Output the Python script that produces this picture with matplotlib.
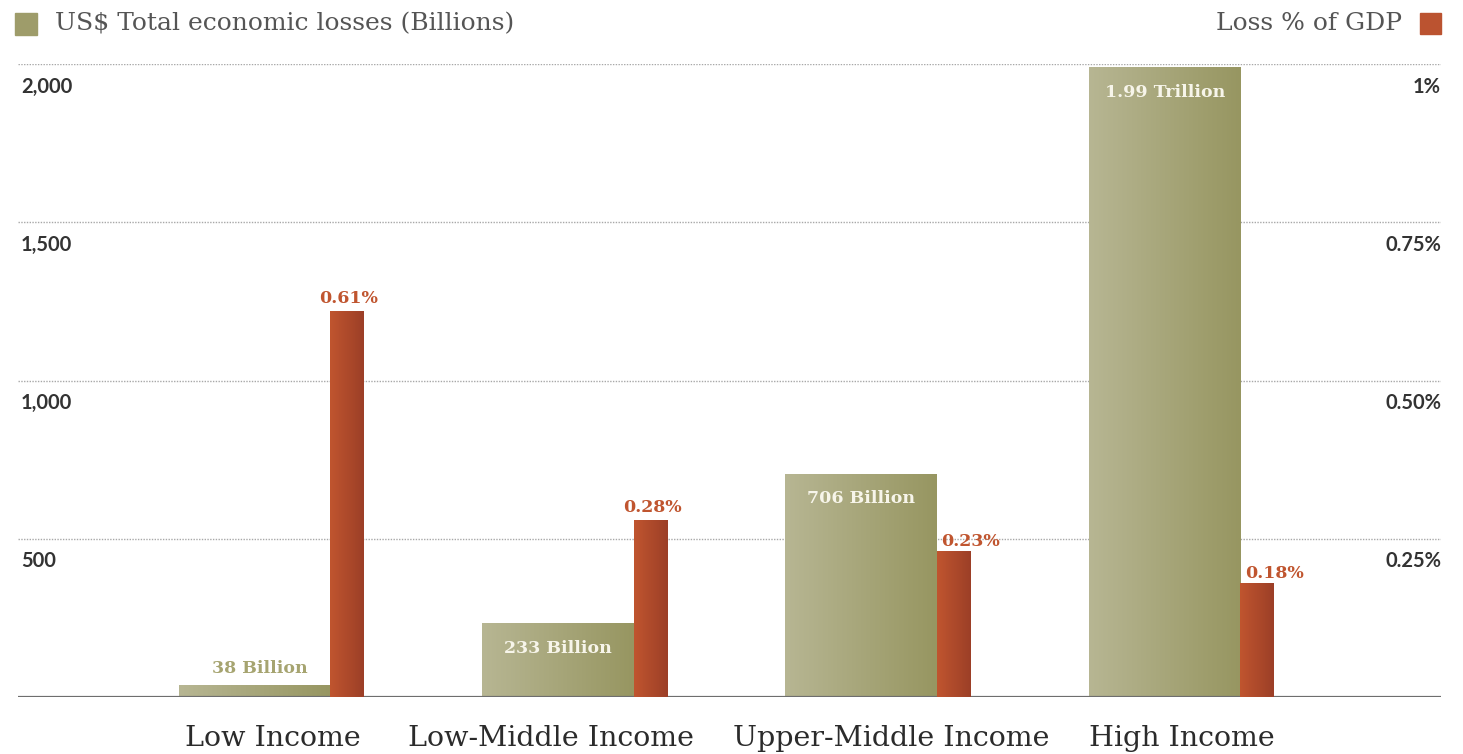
import numpy as np
import matplotlib
matplotlib.use("Agg")
import matplotlib.pyplot as plt
import matplotlib.transforms as mtransforms
from matplotlib.colors import LinearSegmentedColormap

categories = ["Low Income", "Low-Middle Income", "Upper-Middle Income", "High Income"]
losses_billion = [38, 233, 706, 1990]
loss_labels = ["38 Billion", "233 Billion", "706 Billion", "1.99 Trillion"]
gdp_pct = [0.61, 0.28, 0.23, 0.18]
gdp_labels = ["0.61%", "0.28%", "0.23%", "0.18%"]
left_ticks = [500, 1000, 1500, 2000]
left_ticklabels = ["500", "1,000", "1,500", "2,000"]
right_ticks = [0.25, 0.50, 0.75, 1.0]
right_ticklabels = ["0.25%", "0.50%", "0.75%", "1%"]

GREEN_L, GREEN_R = "#b7b693", "#979661"
RED_L, RED_R = "#c0552f", "#9c3f27"
GREEN = "#9e9c6a"
RED = "#bb5330"

fig = plt.figure(figsize=(14.63, 7.54), dpi=100)
ax = fig.add_axes([18/1463, 1-697/754, (1441-18)/1463, (697-64)/754])
ax2 = ax.twinx()

x = np.arange(len(categories))
gw, rw = 0.50, 0.112
gx = x - (gw + rw) / 2 + gw / 2
rx = x - (gw + rw) / 2 + gw + rw / 2

gbars = ax.bar(gx, losses_billion, width=gw, color=GREEN, zorder=3)
rbars = ax2.bar(rx, gdp_pct, width=rw, color=RED, zorder=3)

def gradient(axis, bars, c1, c2):
    cmap = LinearSegmentedColormap.from_list("g", [c1, c2])
    grad = np.linspace(0, 1, 256).reshape(1, -1)
    for b in bars:
        x0, y0 = b.get_x(), b.get_y()
        w, h = b.get_width(), b.get_height()
        im = axis.imshow(grad, cmap=cmap, aspect="auto",
                         extent=(x0, x0 + w, y0, y0 + h), zorder=3.5,
                         interpolation="bicubic")
        im.set_clip_path(b)
gradient(ax, gbars, GREEN_L, GREEN_R)
gradient(ax2, rbars, RED_L, RED_R)
ax.set_xlim(-0.836, 3.855)
ax.set_ylim(0, 2000)
ax2.set_xlim(-0.836, 3.855)
ax2.set_ylim(0, 1.0)

# gridlines
for t in left_ticks:
    ax.axhline(t, color="#a8a8a8", lw=1.0, ls=(0, (1, 1)), zorder=1)
ax.axhline(0, color="#6e6e6e", lw=1.6, zorder=5)

for s in ["top", "bottom", "left", "right"]:
    ax.spines[s].set_visible(False)
    ax2.spines[s].set_visible(False)
ax.set_yticks([])
ax2.set_yticks([])
ax.set_xticks(x)
ax.set_xticklabels(categories, family="DejaVu Serif", fontsize=20.5, color="#2b2b2b")
ax.tick_params(axis="x", length=0, pad=20)
label_shift_pts = [1, -17, 9, 0]
for lab, dx in zip(ax.get_xticklabels(), label_shift_pts):
    lab.set_transform(lab.get_transform() +
                      mtransforms.ScaledTranslation(dx / 72, 0, fig.dpi_scale_trans))

tickfont = dict(family="Lato", fontweight="bold", fontsize=14.5, color="#333333")
for t, lab in zip(left_ticks, left_ticklabels):
    ax.annotate(lab, xy=(0, t), xycoords=ax.get_yaxis_transform(),
                xytext=(2, -9), textcoords="offset points",
                ha="left", va="top", **tickfont)
for t, lab in zip(right_ticks, right_ticklabels):
    ax2.annotate(lab, xy=(1, t), xycoords=ax2.get_yaxis_transform(),
                 xytext=(0, -9), textcoords="offset points",
                 ha="right", va="top", **tickfont)

valfont = dict(family="DejaVu Serif", fontweight="bold", fontsize=12.5)
for i, (b, lab) in enumerate(zip(gbars, loss_labels)):
    cx = b.get_x() + b.get_width() / 2
    h = b.get_height()
    if i == 0:
        ax.annotate(lab, xy=(cx, h), xytext=(4, 6), textcoords="offset points",
                    ha="center", va="bottom", color="#a6a470", zorder=6, **valfont)
    else:
        ax.annotate(lab, xy=(cx, h), xytext=(0, -12), textcoords="offset points",
                    ha="center", va="top", color="#f7f5ea", zorder=6, **valfont)

for i, (b, lab) in enumerate(zip(rbars, gdp_labels)):
    h = b.get_height()
    if i < 2:
        ax2.annotate(lab, xy=(b.get_x() + b.get_width() / 2, h), xytext=(1, 3),
                     textcoords="offset points", ha="center", va="bottom",
                     color="#c0552f", zorder=6, **valfont)
    else:
        ax2.annotate(lab, xy=(b.get_x(), h), xytext=(3, 1),
                     textcoords="offset points", ha="left", va="bottom",
                     color="#c0552f", zorder=6, **valfont)

# legend
legfont = dict(family="DejaVu Serif", fontsize=18, color="#555555", va="center")
fig.patches.append(plt.Rectangle((15/1463, 1-35/754), 22/1463, 22/754,
                                 transform=fig.transFigure, color=GREEN, figure=fig))
fig.text(55/1463, 1-24/754, "US$ Total economic losses (Billions)", ha="left", **legfont)
fig.patches.append(plt.Rectangle((1420/1463, 1-34/754), 21/1463, 21/754,
                                 transform=fig.transFigure, color=RED, figure=fig))
fig.text(1402/1463, 1-24/754, "Loss % of GDP", ha="right", **legfont)

fig.savefig("out.png", dpi=100)
